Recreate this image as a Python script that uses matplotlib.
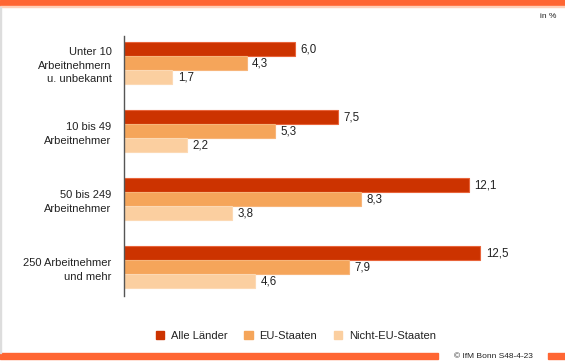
import numpy as np
import matplotlib.pyplot as plt
from matplotlib.patches import Patch, Rectangle

plt.rcParams['font.family'] = ['Liberation Sans', 'DejaVu Sans']

# Data
categories = ["Unter 10\nArbeitnehmern\nu. unbekannt",
              "10 bis 49\nArbeitnehmer",
              "50 bis 249\nArbeitnehmer",
              "250 Arbeitnehmer\nund mehr"]
series_names = ["Alle Länder", "EU-Staaten", "Nicht-EU-Staaten"]
alle = [6.0, 7.5, 12.1, 12.5]
eu = [4.3, 5.3, 8.3, 7.9]
nicht_eu = [1.7, 2.2, 3.8, 4.6]

colors = ["#CC3300", "#F5A55A", "#FBCFA0"]
edges = ["#E8643A", "#F7B57A", "#FCD9B4"]
accent = "#FF6633"

W, H = 565, 362
fig = plt.figure(figsize=(W / 100, H / 100), dpi=100)

# axes geometry in pixels
ax_left, ax_top, ax_bottom = 124, 36, 296
px_per_unit = 28.5
xmax = 15
ax = fig.add_axes([ax_left / W, 1 - ax_bottom / H,
                   xmax * px_per_unit / W, (ax_bottom - ax_top) / H])

group_px = 68.0
bar_h = 14.0 / group_px
offsets = [-bar_h, 0, bar_h]
y = np.arange(len(categories))

for vals, off, col, ec in zip([alle, eu, nicht_eu], offsets, colors, edges):
    ax.barh(y + off, vals, height=bar_h, color=col, edgecolor=ec, linewidth=0.8)
    for yi, v in zip(y, vals):
        ax.text(v + 0.2, yi + off, f"{v:.1f}".replace(".", ","),
                va="center", ha="left", fontsize=8.3, color="#222222")

ax.set_ylim(3 + 29 / group_px, -27 / group_px)
ax.set_xlim(0, xmax)
ax.set_yticks(y)
ax.set_yticklabels(categories, fontsize=8, color="#222222", linespacing=1.45,
                   ha="right")
ax.tick_params(axis="y", length=0, pad=9)
ax.set_xticks([])
for s in ["top", "right", "bottom"]:
    ax.spines[s].set_visible(False)
ax.spines["left"].set_color("#555555")
ax.spines["left"].set_linewidth(1.0)

# top and bottom decoration bars
fig.patches.append(Rectangle((0, 1 - 6 / H), 1, 6 / H, transform=fig.transFigure,
                             color=accent, zorder=0))
fig.patches.append(Rectangle((0, 1 - 7 / H), 1, 1 / H, transform=fig.transFigure,
                             color="#FFD0B8", zorder=0))
fig.patches.append(Rectangle((0, 1 - 359 / H), 438 / W, 6 / H,
                             transform=fig.transFigure, color=accent, zorder=0))
fig.patches.append(Rectangle((548 / W, 1 - 359 / H), 17 / W, 6 / H,
                             transform=fig.transFigure, color=accent, zorder=0))
fig.patches.append(Rectangle((0, 1 - 353 / H), 1 / W, 346 / H,
                             transform=fig.transFigure, color="#DDDDDD", zorder=0))

fig.text(493 / W, 1 - 356 / H, "© IfM Bonn S48-4-23", fontsize=6, ha="center",
         va="center", color="#222222")
fig.text(556 / W, 1 - 16 / H, "in %", fontsize=6, ha="right", va="center",
         color="#222222")

handles = [Patch(facecolor=c, edgecolor=c) for c in colors]
fig.legend(handles, series_names, loc="center", bbox_to_anchor=(296 / W, 1 - 336 / H),
           ncol=3, frameon=False, fontsize=8, handlelength=0.75, handleheight=0.75,
           handletextpad=0.6, columnspacing=1.5, labelcolor="#222222")

fig.savefig("out.png", dpi=100)
